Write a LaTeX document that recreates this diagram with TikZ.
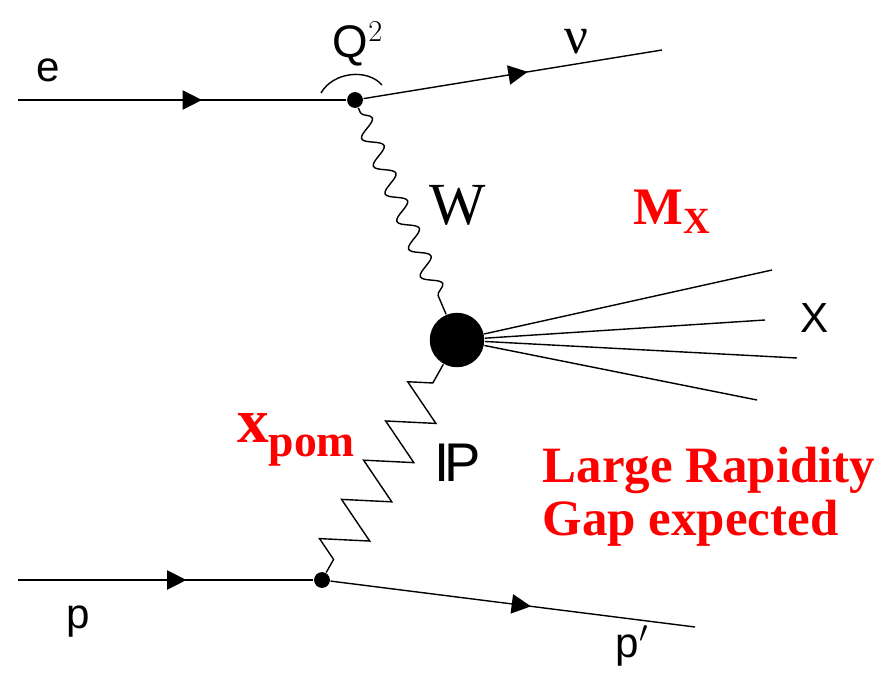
\documentclass[tikz,border=0pt]{standalone}
\usepackage{amssymb}
\usepackage{fontspec}
\setmainfont{Liberation Serif}
\newfontfamily\labfont{Liberation Sans}
\usetikzlibrary{arrows.meta, decorations.markings, decorations.pathmorphing}
\definecolor{gapred}{HTML}{FF0000}

\begin{document}
\begin{tikzpicture}[
    x=0.02cm, y=-0.02cm,
    line width=0.8pt,
    lab/.style={font=\labfont\fontsize{24}{28}\selectfont},
    hot/.style={font=\bfseries\fontsize{29}{30}\selectfont, text=gapred},
    vtx/.style={circle, fill=black, inner sep=0pt, minimum size=9pt},
    fermion/.style={postaction={decorate}, decoration={markings,
        mark=at position #1 with {\arrow{Triangle[length=11pt, width=11pt]}}}},
    boson/.style={decorate, decoration={snake, amplitude=0.18cm,
        segment length=0.6cm, pre length=3pt, post length=3pt}},
    pomeron/.style={decorate, decoration={zigzag, amplitude=0.45cm,
        segment length=0.9cm, pre length=0.3cm, post length=0.05cm}},
]

\useasboundingbox (0,0) rectangle (892,676);

% vertices and the blob
\node[vtx] (top) at (355,100) {};
\node[vtx] (bot) at (322,580) {};
\node[circle, fill=black, inner sep=0pt, minimum size=31pt] (blob) at (457,340) {};

% outer ends
\coordinate (ein) at (18,100);
\coordinate (nuout) at (662,50);
\coordinate (pin) at (18,580);
\coordinate (pout) at (695,627);
\coordinate (x1) at (772,270);
\coordinate (x2) at (765,320);
\coordinate (x3) at (797,358);
\coordinate (x4) at (757,400);

% fermion lines
\draw[fermion=0.56] (ein) -- (top);
\draw[fermion=0.55] (top) -- (nuout);
\draw[fermion=0.57] (pin) -- (bot);
\draw[fermion=0.55] (bot) -- (pout);

% exchanged W and pomeron
\draw[boson] (top) -- (blob);
\draw[pomeron] (bot) -- (blob);

% the hadronic system X
\foreach \e in {x1,x2,x3,x4}{
    \draw (blob) -- (\e);
}

% Q^2 arc
\draw (321,93) .. controls (333,72) and (367,68) .. (382,85);

% labels
\node[lab] (le) at (48,70) {e};
\node[lab, font=\labfont\fontsize{26}{30}\selectfont] (lq) at (358,44) {Q$^2$};
\node[font=\fontsize{30}{34}\selectfont] (lnu) at (576,42) {ν};
\node[font=\fontsize{34}{38}\selectfont] (lw) at (458,205) {W};
\node[lab] (lx) at (815,318) {X};
\node[font=\labfont\fontsize{31}{36}\selectfont] (lpom) at (458,463) {I\kern-3pt P};
\node[lab] (lp) at (78,622) {p};
\node[lab] (lpp) at (632,646) {p$'$};

\node[hot, font=\bfseries\fontsize{30}{34}\selectfont] (lmx) at (672,212)
    {M$_{\mathbf{X}}$};
\node[hot, font=\bfseries\fontsize{36}{40}\selectfont] (lxp) at (296,440)
    {x\raisebox{-8pt}{\fontsize{26}{30}\selectfont pom}};
\node[hot, anchor=base west, align=left] (lgap) at (536,535)
    {Large Rapidity\\Gap expected};

\end{tikzpicture}
\end{document}
